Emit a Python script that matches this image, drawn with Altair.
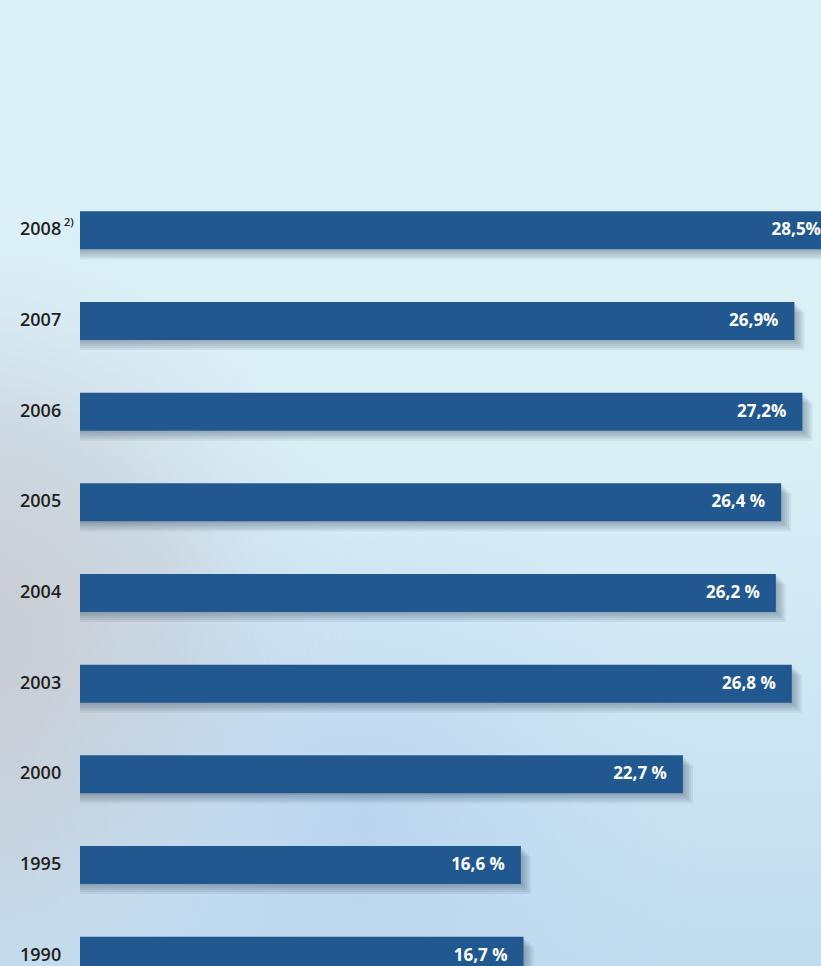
import altair as alt
import pandas as pd

years = ["2008", "2007", "2006", "2005", "2004", "2003", "2000", "1995", "1990"]
values = [28.5, 26.9, 27.2, 26.4, 26.2, 26.8, 22.7, 16.6, 16.7]
labels = ["28,5%", "26,9%", "27,2%", "26,4 %", "26,2 %", "26,8 %", "22,7 %", "16,6 %", "16,7 %"]
notes = ["2)", "", "", "", "", "", "", "", ""]

df = pd.DataFrame({"year": years, "value": values, "label": labels, "note": notes})

BAR = "#20588f"
W, H = 741, 781

xs = alt.Scale(domain=[0, 27.9])
ys = alt.Scale(domain=years, range=[0, 816], paddingInner=0.581, paddingOuter=0.2905)
X = alt.X("value:Q", scale=xs, axis=None)
Y = alt.Y("year:N", scale=ys, axis=None, sort=years)

one = alt.Data(values=[{}])
full = dict(x=alt.value(-80), x2=alt.value(W), y=alt.value(-185), y2=alt.value(H))

bg = alt.Chart(one).mark_rect(
    fill={"gradient": "linear", "x1": 0, "y1": 0, "x2": 0, "y2": 1,
          "stops": [{"offset": 0, "color": "#dcf0f8"},
                    {"offset": 0.45, "color": "#dbeff7"},
                    {"offset": 0.75, "color": "#cde5f3"},
                    {"offset": 1, "color": "#c1dcef"}]}
).encode(**full)

blob1 = alt.Chart(one).mark_rect(
    fill={"gradient": "radial", "x1": 0.03, "y1": 0.66, "r1": 0, "x2": 0.03, "y2": 0.66, "r2": 0.42,
          "stops": [{"offset": 0, "color": "rgba(200,200,205,0.95)"},
                    {"offset": 0.55, "color": "rgba(198,204,214,0.6)"},
                    {"offset": 1, "color": "rgba(210,225,240,0)"}]}
).encode(**full)

blob2 = alt.Chart(one).mark_rect(
    fill={"gradient": "radial", "x1": 0.45, "y1": 0.85, "r1": 0, "x2": 0.45, "y2": 0.85, "r2": 0.35,
          "stops": [{"offset": 0, "color": "rgba(175,200,235,0.55)"},
                    {"offset": 1, "color": "rgba(190,215,240,0)"}]}
).encode(**full)

base = alt.Chart(df)

shadows = [
    base.mark_bar(color="#3c5060", opacity=0.09, xOffset=dx, yOffset=dy).encode(
        x=alt.X("value:Q", scale=xs, axis=None), x2=alt.value(0), y=Y)
    for dx, dy in [(2, 2), (4, 4), (6, 6), (8, 8), (10, 10)]
]

bars = base.mark_bar(color=BAR).encode(x=X, x2=alt.value(0), y=Y)

vals = base.mark_text(
    align="right", baseline="middle", dx=-16, color="white",
    font="Open Sans", fontSize=17, fontWeight="bold"
).encode(x=X, y=Y, text="label:N")

yrs = base.mark_text(
    align="left", baseline="middle", color="#231f20",
    font="Open Sans", fontSize=18, fontWeight=600
).encode(x=alt.value(-60), y=Y, text="year:N")

sup = base.mark_text(
    align="left", baseline="middle", color="#231f20", dy=-7,
    font="Open Sans", fontSize=11, fontWeight=600
).encode(x=alt.value(-16), y=Y, text="note:N")

chart = alt.layer(bg, blob1, blob2, *shadows, bars, vals, yrs, sup).properties(
    width=W, height=H,
    autosize=alt.AutoSizeParams(type="none"),
    padding={"left": 80, "top": 185, "right": 0, "bottom": 0},
    background="#dcf0f8",
).configure_view(stroke=None)

chart.save("out.html", embed_options={"renderer": "svg", "actions": False})
